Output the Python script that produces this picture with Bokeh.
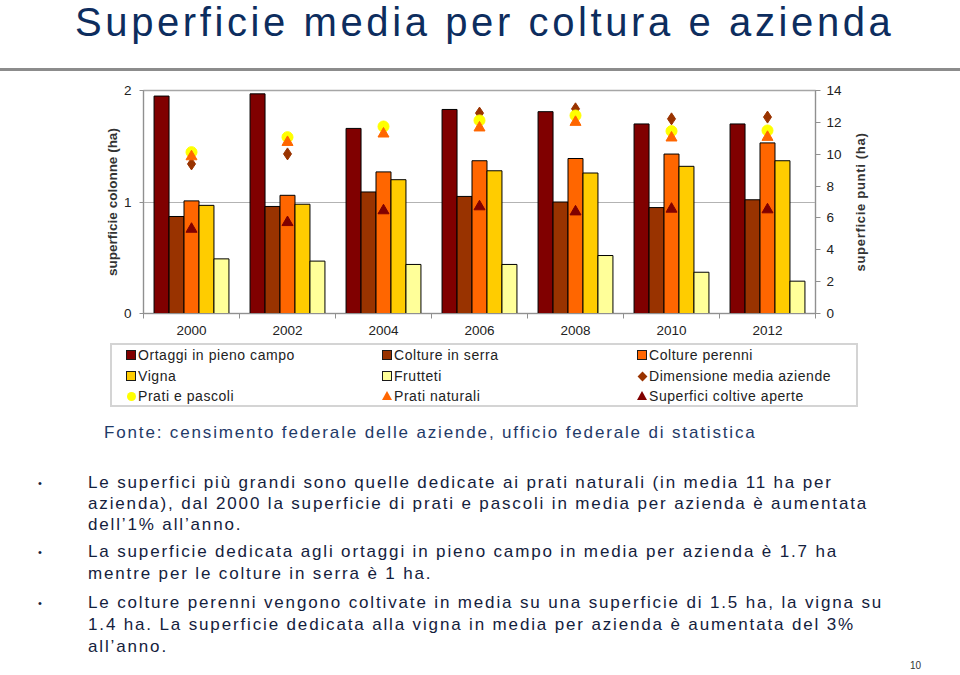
from bokeh.plotting import figure
from bokeh.layouts import column
from bokeh.models import (Range1d, LinearAxis, FixedTicker, ColumnDataSource, Div)
from bokeh.embed import file_html
from bokeh.resources import INLINE

# ---------------- data ----------------
years = ["2000", "2002", "2004", "2006", "2008", "2010", "2012"]
# columns (left axis, ha)
ortaggi = [1.95, 1.97, 1.66, 1.83, 1.81, 1.70, 1.70]
serra = [0.87, 0.96, 1.09, 1.05, 1.00, 0.95, 1.02]
perenni = [1.01, 1.06, 1.27, 1.37, 1.39, 1.43, 1.53]
vigna = [0.97, 0.98, 1.20, 1.28, 1.26, 1.32, 1.37]
frutteti = [0.49, 0.47, 0.44, 0.44, 0.52, 0.37, 0.29]
# points (right axis, ha)
dimensione = [9.39, 10.02, 11.70, 12.58, 12.85, 12.22, 12.33]
prati_pascoli = [10.13, 11.07, 11.74, 12.12, 12.43, 11.45, 11.49]
prati_naturali = [9.85, 10.75, 11.28, 11.66, 12.01, 11.03, 11.07]
coltive_aperte = [5.30, 5.72, 6.46, 6.71, 6.39, 6.56, 6.52]

bar_names = ["Ortaggi in pieno campo", "Colture in serra", "Colture perenni", "Vigna", "Frutteti"]
bar_values = [ortaggi, serra, perenni, vigna, frutteti]
bar_colors = ["#800000", "#993300", "#FF6600", "#FFCC00", "#FFFF99"]

pt_names = ["Dimensione media aziende", "Prati e pascoli", "Prati naturali", "Superfici coltive aperte"]
pt_values = [dimensione, prati_pascoli, prati_naturali, coltive_aperte]
pt_markers = ["diamond", "circle", "triangle", "triangle"]
pt_colors = ["#993300", "#FFFF00", "#FF6600", "#800000"]
pt_sizes = [12, 11, 11, 11]

left_label = "superficie colonne (ha)"
right_label = "superficie punti (ha)"
title_text = "Superficie media per coltura e azienda"
source_text = "Fonte: censimento federale delle aziende, ufficio federale di statistica"
text_lines = [
    "Le superfici più grandi sono quelle dedicate ai prati naturali (in media 11 ha per",
    "azienda), dal 2000 la superficie di prati e pascoli in media per azienda è aumentata",
    "dell’1% all’anno.",
    "La superficie dedicata agli ortaggi in pieno campo in media per azienda è 1.7 ha",
    "mentre per le colture in serra è 1 ha.",
    "Le colture perenni vengono coltivate in media su una superficie di 1.5 ha, la vigna su",
    "1.4 ha. La superficie dedicata alla vigna in media per azienda è aumentata del 3%",
    "all’anno.",
]
bullet_first = [True, False, False, True, False, True, False, False]
page_number = "10"

W, H = 960, 675
TF = "Liberation Sans"

# ---------------- chart ----------------
FL, FR = 143, 815
FT, FB = 90, 313
CH_H = 340
p = figure(width=W, height=CH_H, output_backend="svg", toolbar_location=None,
           x_range=Range1d(-0.5, len(years) - 0.5), y_range=Range1d(0, 2),
           min_border_left=FL, min_border_right=W - FR,
           min_border_top=FT, min_border_bottom=CH_H - FB,
           margin=(0, 0, 0, 0))
p.background_fill_color = "white"
p.border_fill_color = "white"
p.outline_line_color = "#a6a6a6"
p.outline_line_width = 1.5
p.extra_y_ranges = {"pts": Range1d(0, 14)}

idx = list(range(len(years)))
bw = 0.156
for j, (vals, col) in enumerate(zip(bar_values, bar_colors)):
    xs = [i + (j - 2) * bw for i in idx]
    src = ColumnDataSource(dict(x=xs, top=vals))
    p.vbar(x="x", top="top", width=bw, bottom=0, source=src,
           fill_color=col, line_color="#000000", line_width=1)

for vals, mk, col, sz in zip(pt_values, pt_markers, pt_colors, pt_sizes):
    src = ColumnDataSource(dict(x=idx, y=vals))
    p.scatter(x="x", y="y", source=src, marker=mk, size=sz,
              fill_color=col, line_color=col, y_range_name="pts")

p.xaxis.ticker = FixedTicker(ticks=idx, minor_ticks=[i - 0.5 for i in idx] + [len(idx) - 0.5])
p.xaxis.major_label_overrides = {i: y for i, y in zip(idx, years)}
p.xaxis.major_tick_line_color = None
p.xaxis.minor_tick_out = 5
p.xaxis.minor_tick_in = 0
p.xaxis.minor_tick_line_color = "#909090"
p.xaxis.axis_line_color = "#909090"
p.xaxis.major_label_standoff = 6
p.xaxis.major_label_text_font = TF
p.xaxis.major_label_text_font_size = "13.5px"
p.xaxis.major_label_text_color = "#222222"

p.yaxis.ticker = FixedTicker(ticks=[0, 1, 2])
p.yaxis.axis_label = left_label
p.yaxis.axis_label_text_font = TF
p.yaxis.axis_label_text_font_style = "bold"
p.yaxis.axis_label_text_font_size = "13.5px"
p.yaxis.axis_label_text_color = "#333333"
p.yaxis.axis_label_standoff = 1
p.yaxis.major_label_text_font = TF
p.yaxis.major_label_text_font_size = "13.5px"
p.yaxis.major_label_text_color = "#222222"
p.yaxis.major_label_standoff = 8
p.yaxis.axis_line_color = "#909090"
p.yaxis.major_tick_line_color = "#909090"
p.yaxis.major_tick_out = 4
p.yaxis.major_tick_in = 0
p.yaxis.minor_tick_line_color = None

ax2 = LinearAxis(y_range_name="pts", ticker=FixedTicker(ticks=list(range(0, 15, 2))))
ax2.major_label_text_font = TF
ax2.major_label_text_font_size = "13.5px"
ax2.major_label_text_color = "#222222"
ax2.major_label_standoff = 6
ax2.axis_line_color = "#909090"
ax2.major_tick_line_color = "#909090"
ax2.major_tick_out = 5
ax2.major_tick_in = 0
ax2.minor_tick_line_color = None
p.add_layout(ax2, "right")

p.xgrid.grid_line_color = None
p.ygrid.ticker = FixedTicker(ticks=[1])
p.ygrid.grid_line_color = "#b3b3b3"

# ---------------- overlay with title, legend and text ----------------
parts = [f'<div style="position:relative;width:{W}px;height:{H}px;">']
# title + rule
parts.append(f'<div style="position:absolute;left:75px;top:0px;font-family:\'Liberation Sans\';'
             f'font-size:40px;line-height:normal;letter-spacing:3.6px;color:#0d2d5e;white-space:nowrap;">'
             f'{title_text}</div>')
parts.append(f'<div style="position:absolute;left:0;top:68px;width:{W}px;height:3px;background:#8c8c8c;"></div>')
# right axis title (reads bottom to top)
parts.append(f'<div style="position:absolute;left:860px;top:202px;transform:translate(-50%,-50%) rotate(-90deg);'
             f'font-family:\'Liberation Sans\';font-weight:bold;font-size:13px;line-height:13px;'
             f'letter-spacing:0.7px;color:#333333;white-space:nowrap;">{right_label}</div>')

# legend (3 columns, row-major as in the reference)
parts.append('<div style="position:absolute;left:110px;top:343px;width:748px;height:64px;'
             'box-sizing:border-box;border:2px solid #d4d4d4;"></div>')
order = bar_names[:3] + bar_names[3:5] + pt_names
col_x = [126, 382, 637]
row_y = [355, 376, 396]
sw_css = {}
for name, col in zip(bar_names, bar_colors):
    sw_css[name] = (f'width:10px;height:10px;box-sizing:border-box;background:{col};'
                    f'border:1px solid #1a1a1a;', 0, -5)
for name, mk, col in zip(pt_names, pt_markers, pt_colors):
    if mk == "diamond":
        sw_css[name] = (f'width:7px;height:7px;background:{col};transform:rotate(45deg);', 1.5, -3.5)
    elif mk == "circle":
        sw_css[name] = (f'width:9px;height:9px;border-radius:50%;background:{col};', 0.5, -4.5)
    else:
        sw_css[name] = (f'width:0;height:0;border-left:5px solid transparent;border-right:5px solid transparent;'
                        f'border-bottom:9px solid {col};', 0, -5)
for k, name in enumerate(order):
    cx = col_x[k % 3]
    cy = row_y[k // 3]
    css, dx, dy = sw_css[name]
    parts.append(f'<div style="position:absolute;left:{cx + dx}px;top:{cy + dy}px;{css}"></div>')
    parts.append(f'<div style="position:absolute;left:{cx + 12}px;top:{cy - 7}px;font-family:\'Liberation Sans\';'
                 f'font-size:14px;line-height:14px;letter-spacing:0.55px;color:#222222;white-space:nowrap;">'
                 f'{name}</div>')

# source and bullet text
body = ("font-family:'Liberation Sans';font-size:17px;line-height:17px;"
        "letter-spacing:1.85px;white-space:nowrap;")
parts.append(f'<div style="position:absolute;left:104px;top:{432 - 8.5}px;{body}color:#1f3a68;">'
             f'{source_text}</div>')
line_y = [482, 503, 524, 551, 573, 602, 624, 646]
for txt, yy, isb in zip(text_lines, line_y, bullet_first):
    parts.append(f'<div style="position:absolute;left:88px;top:{yy - 8.5}px;{body}color:#14213d;">'
                 f'{txt}</div>')
    if isb:
        parts.append(f'<div style="position:absolute;left:38px;top:{yy - 4}px;'
                     f'font-family:\'Liberation Sans\';font-size:11px;line-height:11px;color:#14213d;">•</div>')
parts.append(f'<div style="position:absolute;left:910px;top:{666 - 5}px;font-family:\'Liberation Sans\';'
             f'font-size:10px;line-height:10px;color:#333333;">{page_number}</div>')
parts.append('</div>')
overlay = Div(text="".join(parts), width=W, height=H, margin=(-CH_H, 0, 0, 0))

layout = column(p, overlay, spacing=0)
open("out.html", "w").write(file_html(layout, INLINE))
